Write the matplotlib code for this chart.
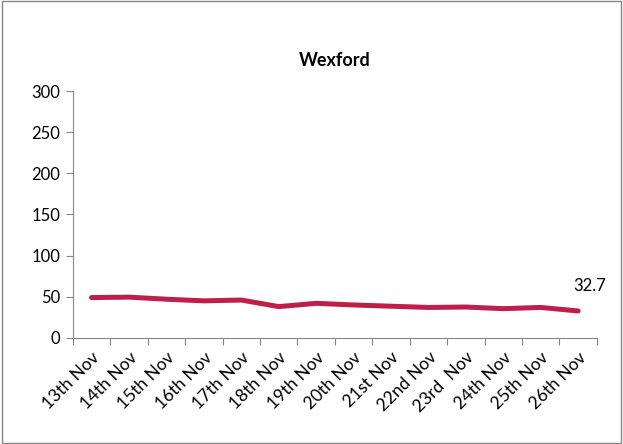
import matplotlib.pyplot as plt
from matplotlib.patches import Rectangle

plt.rcParams['font.family'] = ['Lato', 'DejaVu Sans']

days = ['13th Nov', '14th Nov', '15th Nov', '16th Nov', '17th Nov', '18th Nov', '19th Nov',
        '20th Nov', '21st Nov', '22nd Nov', '23rd  Nov', '24th Nov', '25th Nov', '26th Nov']
rate = [49, 49.5, 47, 45, 46, 38, 42, 40, 38.5, 37, 37.5, 35.5, 37, 32.7]

fig = plt.figure(figsize=(6.23, 4.44), dpi=100)
ax = fig.add_axes([0.117, 0.239, 0.841, 0.556])

x = list(range(len(days)))
ax.plot(x, rate, color='#BE1E4A', linewidth=3.6, solid_capstyle='round')
ax.annotate(f'{rate[-1]}', (x[-1], rate[-1]), xytext=(8, 12), textcoords='offset points',
            ha='center', va='bottom', fontsize=12)

ax.set_xlim(-0.5, len(days) - 0.5)
ax.set_ylim(0, 300)
ax.set_yticks(range(0, 301, 50))
ax.set_xticks([i - 0.5 for i in range(len(days) + 1)])
ax.set_xticklabels([])
ax.set_xticks(x, minor=True)
ax.set_xticklabels(days, minor=True, rotation=45, ha='right', rotation_mode='anchor')
ax.tick_params(axis='x', which='minor', length=0, pad=8, labelsize=12.5)
ax.tick_params(axis='x', which='major', length=5, color='#868686')
ax.tick_params(axis='y', length=5, color='#868686', labelsize=12, pad=4)

for s in ['top', 'right']:
    ax.spines[s].set_visible(False)
for s in ['left', 'bottom']:
    ax.spines[s].set_color('#868686')

ax.set_title('Wexford', fontsize=13, fontweight='bold', pad=18)

fig.patches.append(Rectangle((0.003, 0.003), 0.994, 0.994, transform=fig.transFigure,
                             fill=False, edgecolor='#868686', linewidth=1))

plt.savefig('out.png', dpi=100)
